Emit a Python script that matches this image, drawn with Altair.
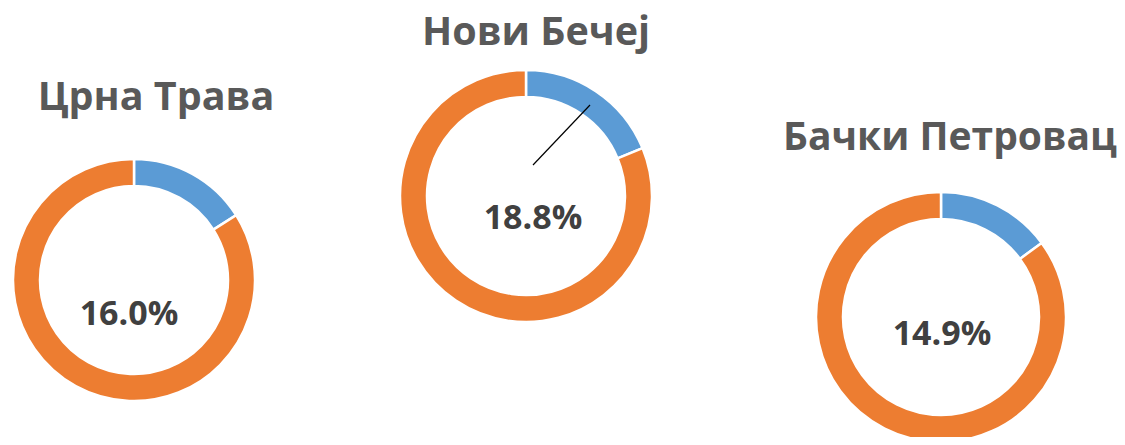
import altair as alt
import pandas as pd

cities = ["Црна Трава", "Нови Бечеј", "Бачки Петровац"]
shares = [16.0, 18.8, 14.9]
labels = ["16.0%", "18.8%", "14.9%"]

# layout (chart pixel coords)
centers = [(126, 272), (518, 188), (933, 309)]
radii = [(121, 94), (126, 99), (125, 98)]
title_pos = [(148, 90), (528, 25), (942, 130)]
title_size = [39.5, 39.5, 39]
label_pos = [(121, 307), (525, 211), (934, 327)]

rows = []
for c, s in zip(cities, shares):
    rows.append({"city": c, "part": "share", "value": s, "idx": 0})
    rows.append({"city": c, "part": "rest", "value": round(100 - s, 1), "idx": 1})
df = pd.DataFrame(rows)
tdf = pd.DataFrame({"city": cities, "label": labels})

color = alt.Color("part:N", scale=alt.Scale(domain=["share", "rest"], range=["#5B9BD5", "#ED7D31"]), legend=None)

layers = []
for i, c in enumerate(cities):
    cx, cy = centers[i]
    ro, ri = radii[i]
    arc = alt.Chart(df).transform_filter(alt.datum.city == c).mark_arc(
        outerRadius=ro, innerRadius=ri, stroke="white", strokeWidth=2.5
    ).encode(
        theta=alt.Theta("value:Q", stack=True, scale=alt.Scale(domain=[0, 100])),
        color=color,
        order=alt.Order("idx:Q"),
        x=alt.value(cx), y=alt.value(cy),
    )
    tx, ty = title_pos[i]
    title = alt.Chart(tdf).transform_filter(alt.datum.city == c).mark_text(
        font="Open Sans", fontWeight="bold", fontSize=title_size[i], color="#595959",
        align="center", baseline="middle"
    ).encode(text="city:N", x=alt.value(tx), y=alt.value(ty))
    lx, ly = label_pos[i]
    lab = alt.Chart(tdf).transform_filter(alt.datum.city == c).mark_text(
        font="Open Sans", fontWeight="bold", fontSize=34, color="#404040",
        align="center", baseline="middle"
    ).encode(text="label:N", x=alt.value(lx), y=alt.value(ly))
    layers += [arc, title, lab]

leader = alt.Chart(tdf.head(1)).mark_rule(color="black", strokeWidth=1.2).encode(
    x=alt.value(525), y=alt.value(157), x2=alt.value(582), y2=alt.value(97)
)
layers.append(leader)

chart = alt.layer(*layers).properties(
    width=1109, height=429, autosize=alt.AutoSizeParams(type="none"), padding=0
).configure_view(stroke=None)

chart.save("out.html", embed_options={"renderer": "svg", "actions": False})
